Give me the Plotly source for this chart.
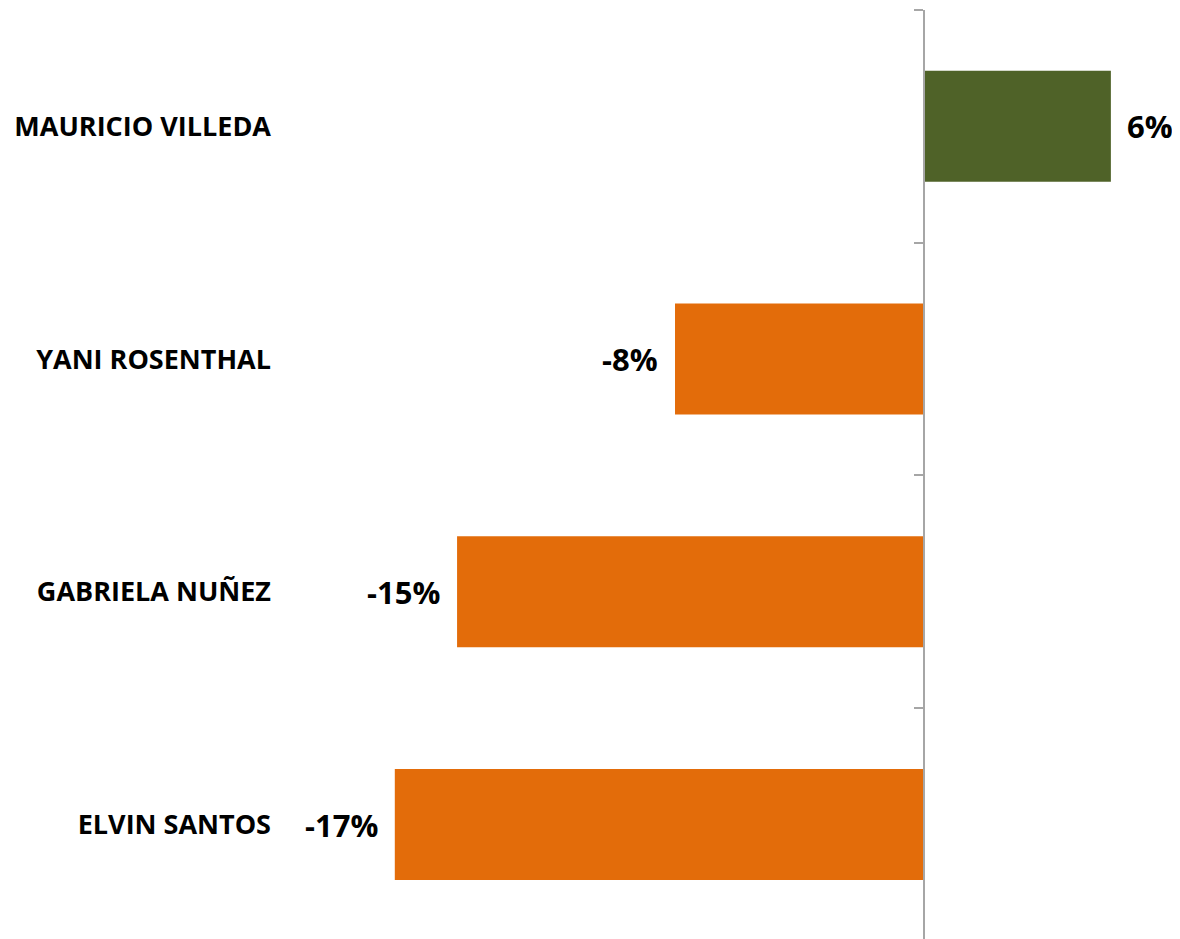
import plotly.graph_objects as go

# Data (listed bottom-to-top so the first candidate appears at the top)
candidates = ["ELVIN SANTOS", "GABRIELA NUÑEZ", "YANI ROSENTHAL", "MAURICIO VILLEDA"]
values = [-17, -15, -8, 6]
labels = ["-17%", "-15%", "-8%", "6%"]

POS_COLOR = "#4F6228"
NEG_COLOR = "#E36C0A"
colors = [POS_COLOR if v >= 0 else NEG_COLOR for v in values]

TICK_FONT = "Open Sans"
LABEL_FONT = "Open Sans"

fig = go.Figure()
fig.add_trace(go.Bar(
    x=values, y=candidates, orientation="h",
    marker=dict(color=colors, line=dict(width=0)),
    hoverinfo="skip", showlegend=False,
))
# invisible trace that carries the centre axis (line + boundary ticks)
fig.add_trace(go.Scatter(
    x=[0] * len(candidates), y=candidates, yaxis="y2",
    mode="markers", marker=dict(opacity=0), hoverinfo="skip", showlegend=False,
))

for v, lab, c in zip(values, labels, candidates):
    fig.add_annotation(
        x=v, y=c, text=lab, showarrow=False,
        xanchor="left" if v >= 0 else "right",
        xshift=14 if v >= 0 else -15,
        font=dict(family=LABEL_FONT, size=31, color="#000000", weight="bold"),
    )

# page body has an 8px margin, so the figure is a little smaller than the window
W, H = 1172, 931
ML, MR, MT, MB = 266, 0, 2, 0
xmin, xmax = -20.88, 8.22
yrange = [-0.492, 3.5]
zero_frac = (0 - xmin) / (xmax - xmin)

fig.update_layout(
    width=W, height=H,
    margin=dict(l=ML, r=MR, t=MT, b=MB),
    paper_bgcolor="white", plot_bgcolor="white",
    bargap=0.523,
    xaxis=dict(range=[xmin, xmax], showgrid=False, zeroline=False,
               showticklabels=False, showline=False, ticks=""),
    yaxis=dict(type="category", categoryorder="array", categoryarray=candidates,
               range=yrange, showgrid=False, zeroline=False, showline=False,
               ticks="", ticklabelstandoff=2,
               tickfont=dict(family=TICK_FONT, size=27, color="#000000",
                             weight="bold")),
    yaxis2=dict(type="category", categoryorder="array", categoryarray=candidates,
                range=yrange, overlaying="y", anchor="free", position=zero_frac,
                side="left", showgrid=False, zeroline=False,
                showline=True, linecolor="#A6A6A6", linewidth=1.5,
                ticks="outside", tickson="boundaries", ticklen=9,
                tickcolor="#A6A6A6", tickwidth=1.5, showticklabels=False),
)

fig.write_html("out.html")
